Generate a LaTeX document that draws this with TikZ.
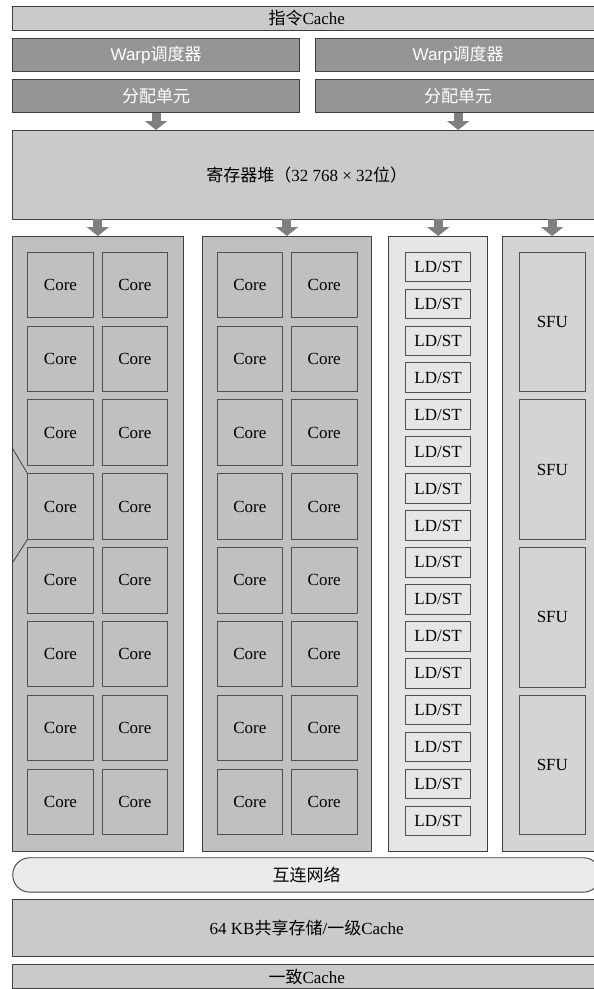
\documentclass[tikz,border=0pt]{standalone}
\usepackage{fontspec}
\setmainfont{Liberation Serif}
\setsansfont{Liberation Sans}
\newfontfamily\cjk{Noto Sans CJK SC}
\usetikzlibrary{arrows.meta}
\definecolor{cachec}{HTML}{CACACA}
\definecolor{darkc}{HTML}{959595}
\definecolor{corec}{HTML}{C0C0C0}
\definecolor{ldstc}{HTML}{E6E6E6}
\definecolor{sfuc}{HTML}{D4D4D4}
\definecolor{netc}{HTML}{EBEBEB}
\definecolor{arrc}{HTML}{7F7F7F}
\definecolor{bd}{HTML}{404040}
\definecolor{ibd}{HTML}{505050}
\newcommand{\cj}[1]{{\cjk #1}}
\begin{document}
\begin{tikzpicture}[x=1pt,y=-1pt,
  font=\fontsize{17}{20}\selectfont,
  box/.style={draw=bd, line width=0.9pt, inner sep=0pt, anchor=north west},
  bar/.style={box, fill=cachec, minimum width=588, minimum height=24},
  darkbox/.style={box, fill=darkc, text=white, font=\fontsize{17}{20}\selectfont\sffamily, minimum height=33},
  colbox/.style={box, minimum height=614.7},
  corebox/.style={box, draw=ibd, fill=corec, minimum width=65.5, minimum height=65.5},
  ldbox/.style={box, draw=ibd, fill=ldstc, minimum width=65.3, minimum height=29.6},
  sfubox/.style={box, draw=ibd, fill=sfuc, minimum width=65.2, minimum height=139.5},
  arr/.style={draw=arrc, line width=9pt, -{Triangle[width=22pt,length=9pt]}},
  edge/.style={draw=bd, line width=0.8pt}]
\useasboundingbox (0,0) rectangle (594,989);
\clip (0,0) rectangle (594,989);

\node[bar] (icache) at (12.3,6) {\cj{指令}Cache};
\node[darkbox, minimum width=286.7] (w1) at (12.3,38) {Warp\cj{调度器}};
\node[darkbox, minimum width=286] (w2) at (314.7,38) {Warp\cj{调度器}};
\node[darkbox, minimum width=286.7] (d1) at (12.3,79) {\cj{分配单元}};
\node[darkbox, minimum width=286] (d2) at (314.7,79) {\cj{分配单元}};
\node[bar, minimum height=88.5] (reg) at (12.3,130) {\cj{寄存器堆（}32 768 × 32\cj{位）}};

\node[colbox, fill=corec, minimum width=170.2] (col1) at (12.3,236) {};
\node[colbox, fill=corec, minimum width=169.6] (col2) at (201.7,236) {};
\node[colbox, fill=ldstc, minimum width=99] (col3) at (388.3,236) {};
\node[colbox, fill=sfuc, minimum width=100] (col4) at (501.7,236) {};

\foreach \r in {0,...,7} {
  \node[corebox] (ca\r) at (27.3,{251.7+73.85*\r}) {Core};
  \node[corebox] (cb\r) at (101.7,{251.7+73.85*\r}) {Core};
  \node[corebox] (cc\r) at (216.7,{251.7+73.85*\r}) {Core};
  \node[corebox] (cd\r) at (291,{251.7+73.85*\r}) {Core};
}
\foreach \r in {0,...,15} {
  \node[ldbox] (ld\r) at (405,{251.7+36.93*\r}) {LD/ST};
}
\foreach \r in {0,...,3} {
  \node[sfubox] (sf\r) at (519.3,{251.7+147.7*\r}) {SFU};
}

\node[box, fill=netc, rounded corners=17pt, minimum width=587.7, minimum height=34.4] (net) at (12.3,857.3) {\cj{互连网络}};
\node[bar, minimum height=57] (smem) at (12.3,899) {64 KB\cj{共享存储}/\cj{一级}Cache};
\node[bar, minimum height=24] (ucache) at (12.3,964.3) {\cj{一致}Cache};

\draw[arr] (d1.south) -- (reg.north -| d1.south);
\draw[arr] (d2.south) -- (reg.north -| d2.south);
\draw[arr] (reg.south -| col1.north) -- (col1.north);
\draw[arr] (reg.south -| col2.north) -- (col2.north);
\draw[arr] (reg.south -| col3.north) -- (col3.north);
\draw[arr] (reg.south -| col4.north) -- (col4.north);

\coordinate (lt) at (12.3,448);
\coordinate (lb) at (12.3,563);
\draw[edge] (lt) -- (ca3.north west);
\draw[edge] (ca3.south west) -- (lb);
\end{tikzpicture}
\end{document}
